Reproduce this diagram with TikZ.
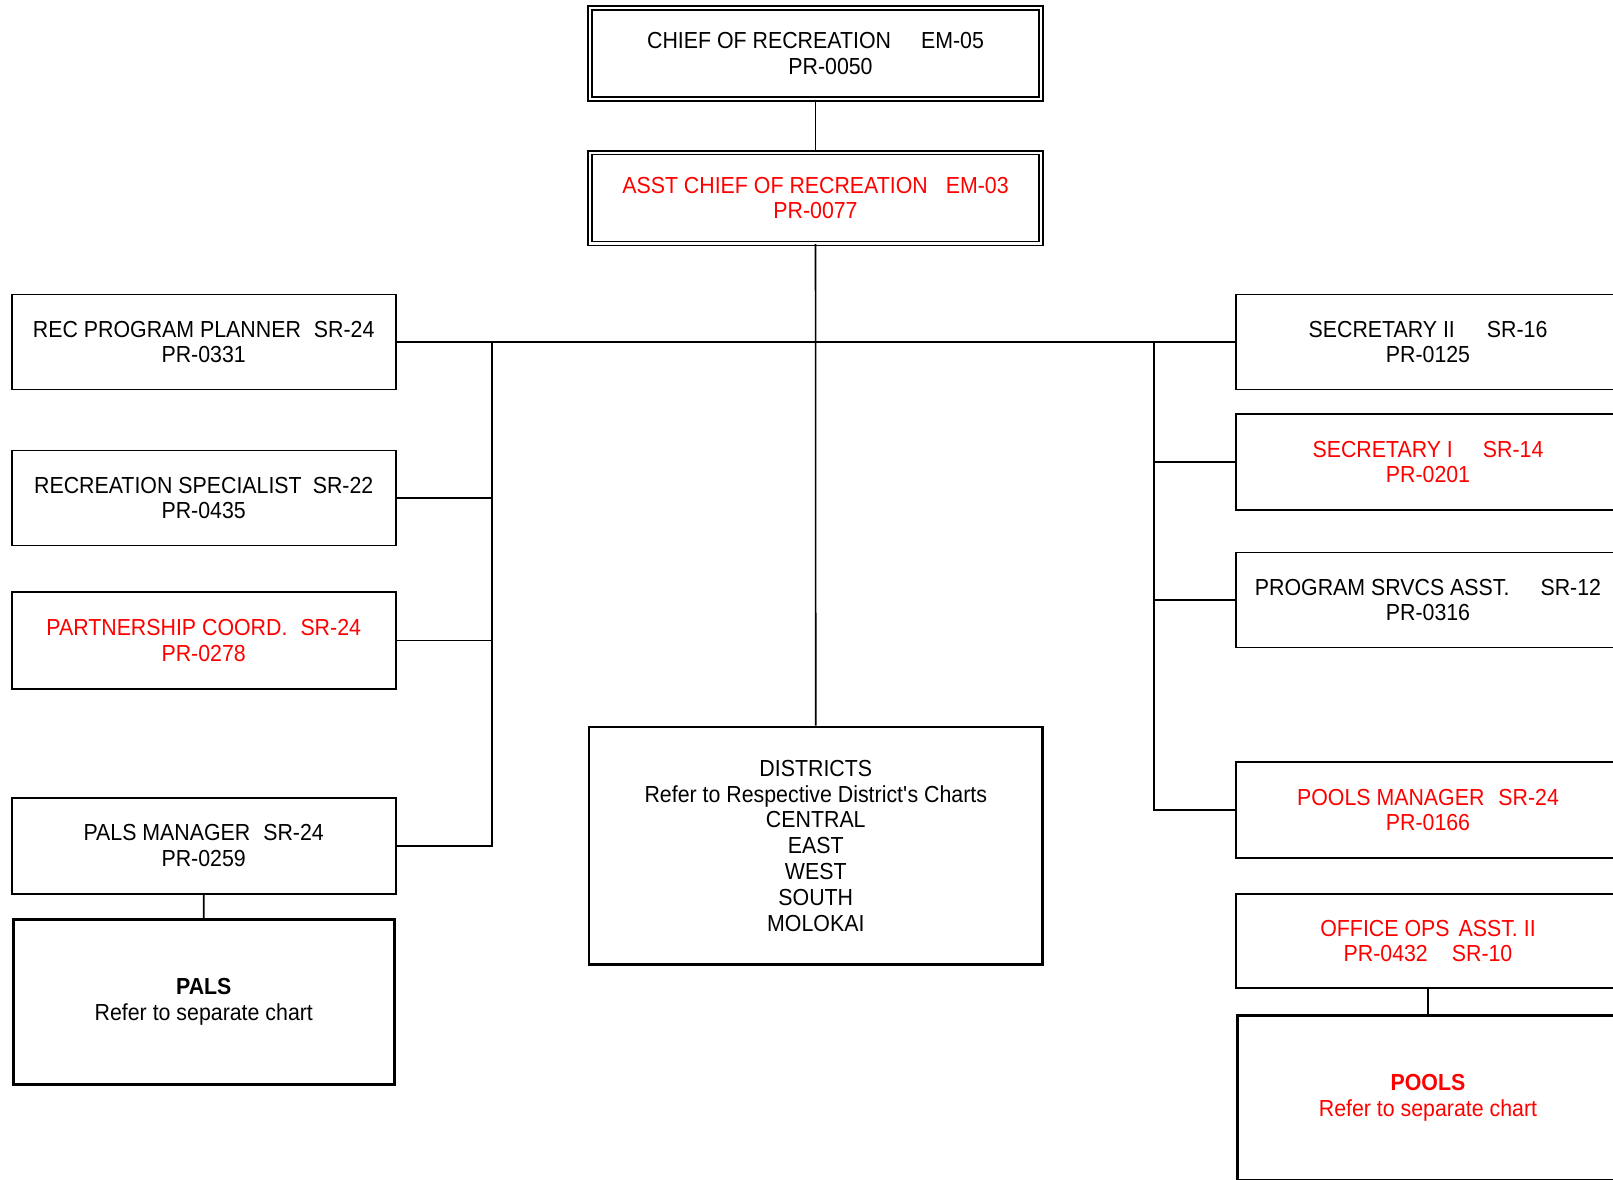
\documentclass[tikz,border=0pt]{standalone}
\usepackage{fontspec}
\setmainfont{Liberation Sans}[FakeStretch=0.92]
\usepackage{tikz}
\newcommand{\taille}{\fontsize{11.6}{12.9}\selectfont}
\tikzset{
  poste/.style={draw, line width=0.8pt, minimum width=192pt, minimum height=47.5pt,
    inner sep=0pt, align=center, font=\taille},
  chef/.style={poste, line width=0.8pt, double, double distance=1.1pt,
    minimum width=225.5pt, minimum height=45.4pt},
  renvoi/.style={poste, line width=1.35pt, minimum width=190.5pt, minimum height=82.5pt},
  rouge/.style={text=red},
  lien/.style={line width=0.8pt}
}
\begin{document}
\begin{tikzpicture}[x=0.5pt,y=-0.5pt]
\path[use as bounding box, clip] (0,0) rectangle (1613,1179);
%direction
\node[chef] (chef) at (815.5,53.5) {CHIEF OF RECREATION\hspace{15pt}EM-05\\\hspace*{15pt}PR-0050};
\node[chef,rouge] (adjoint) at (815.5,198) {ASST CHIEF OF RECREATION\hspace{9pt}EM-03\\PR-0077};
%gauche
\node[poste] (planif) at (203.7,342) {REC PROGRAM PLANNER\hspace{6.5pt}SR-24\\PR-0331};
\node[poste] (specia) at (203.7,498) {RECREATION SPECIALIST\hspace{5.5pt}SR-22\\PR-0435};
\node[poste,rouge,minimum height=48.5pt] (partner) at (203.7,640.5) {PARTNERSHIP COORD.\hspace{6.5pt}SR-24\\PR-0278};
\node[poste,minimum height=48pt] (palsmgr) at (203.7,845.7) {PALS MANAGER\hspace{6.5pt}SR-24\\PR-0259};
\node[renvoi] (pals) at (203.8,1002) {\textbf{PALS}\\Refer to separate chart};
%centre
\node[renvoi,minimum width=226.75pt,minimum height=118.75pt] (districts) at (815.8,845.7)
  {DISTRICTS\\Refer to Respective District\textquotesingle s Charts\\CENTRAL\\EAST\\WEST\\SOUTH\\MOLOKAI};
%droite
\node[poste] (secdeux) at (1428,342) {SECRETARY II\hspace{16pt}SR-16\\PR-0125};
\node[poste,rouge,minimum height=48pt] (secun) at (1428,462) {SECRETARY I\hspace{15pt}SR-14\\PR-0201};
\node[poste] (progasst) at (1428,600) {PROGRAM SRVCS ASST.\hspace{15.5pt}SR-12\\PR-0316};
\node[poste,rouge,minimum height=48pt] (poolsmgr) at (1428,810) {POOLS MANAGER\hspace{7pt}SR-24\\PR-0166};
\node[poste,rouge,minimum height=47pt] (officeops) at (1428,941) {OFFICE OPS\hspace{4.5pt}ASST. II\\PR-0432\hspace{12pt}SR-10};
\node[renvoi,rouge] (pools) at (1428,1098) {\textbf{POOLS}\\Refer to separate chart};
%liaisons
\coordinate (busG) at (492,342);
\coordinate (busD) at (1154,342);
\draw[lien] (chef) -- (adjoint);
\draw[lien] (adjoint) -- (districts);
\draw[lien] (planif.east) -- (secdeux.west);
\draw[lien] (busG) |- (palsmgr.east);
\draw[lien] (specia.east) -- (specia.east -| busG);
\draw[lien] (partner.east) -- (partner.east -| busG);
\draw[lien] (busD) |- (poolsmgr.west);
\draw[lien] (secun.west) -- (secun.west -| busD);
\draw[lien] (progasst.west) -- (progasst.west -| busD);
\draw[lien] (palsmgr) -- (pals);
\draw[lien] (officeops) -- (pools);
\end{tikzpicture}
\end{document}
